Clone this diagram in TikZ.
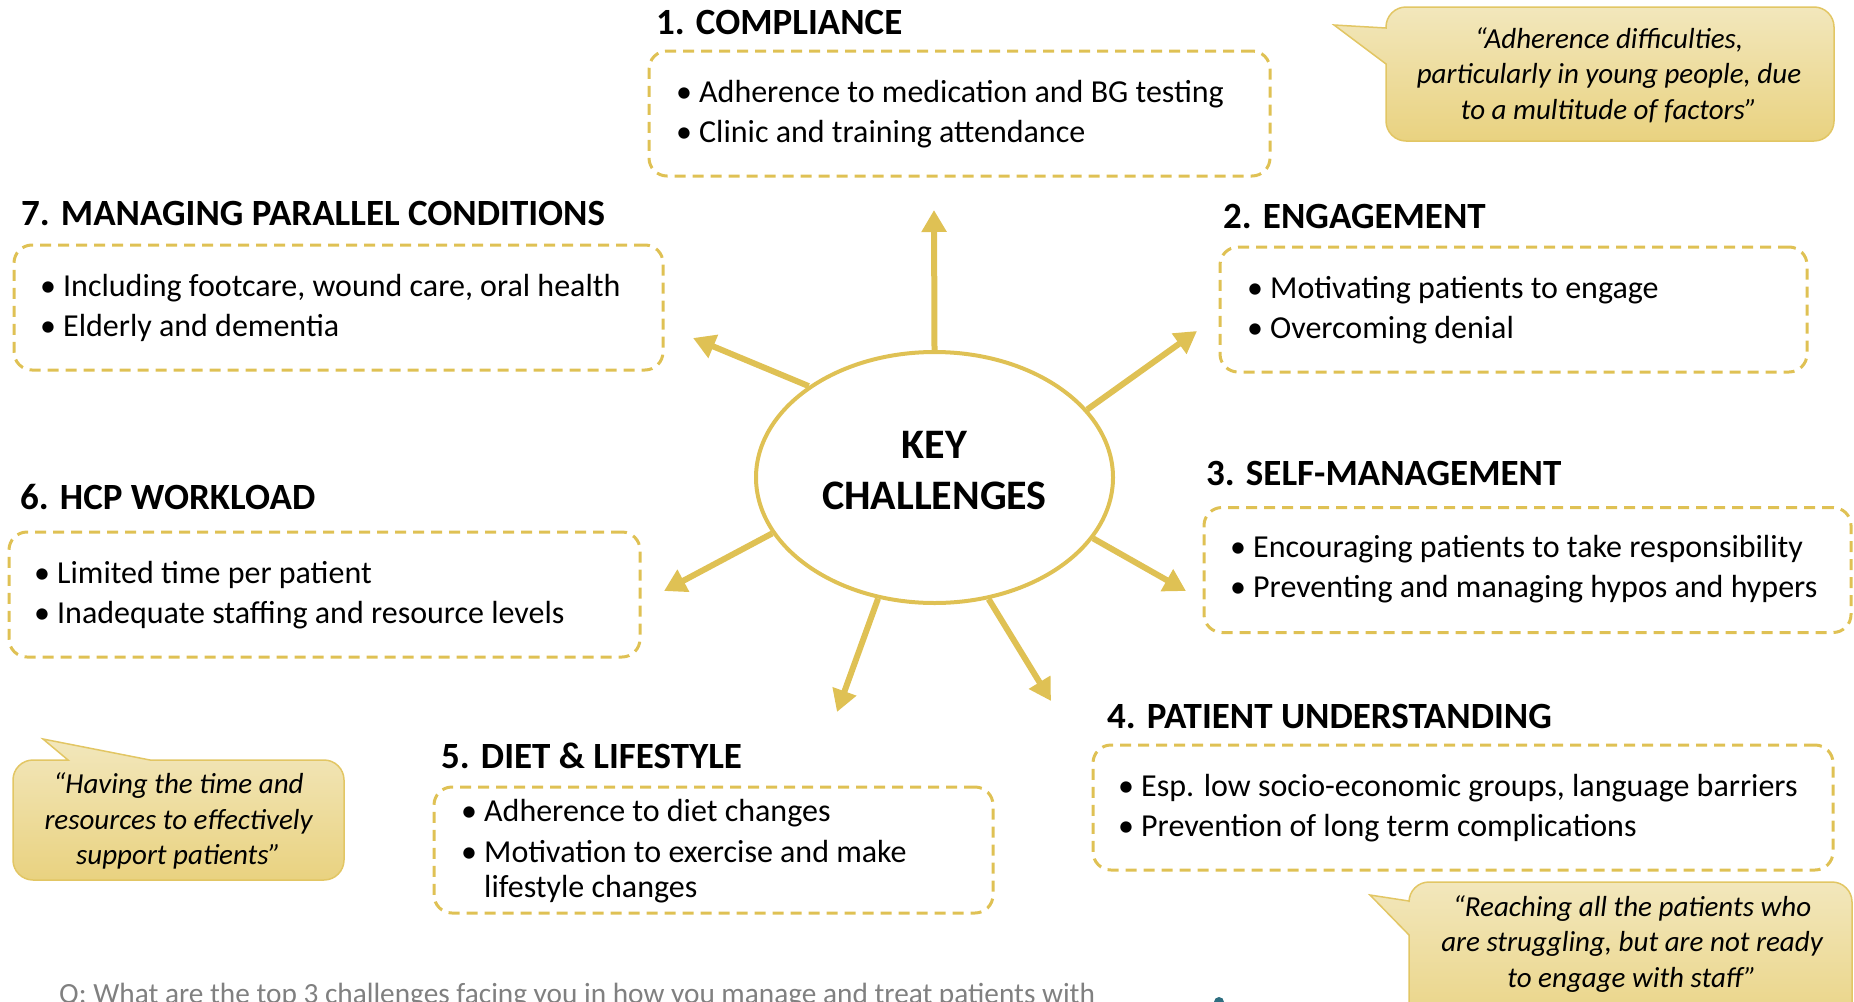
\documentclass[tikz,border=0pt]{standalone}
\usepackage{fontspec}
\setmainfont{Carlito}
\usetikzlibrary{arrows.meta,shapes.geometric}
\definecolor{gold}{RGB}{223,193,84}
\definecolor{calltop}{RGB}{242,231,188}
\definecolor{callbot}{RGB}{233,210,128}
\definecolor{callline}{RGB}{226,198,100}
\definecolor{qgray}{RGB}{128,128,128}
\definecolor{teal}{RGB}{46,110,128}
\begin{document}
\begin{tikzpicture}[x=1pt,y=-1pt,
  dbox/.style={draw=gold, line width=3pt, dash pattern=on 11pt off 7pt, rounded corners=18pt, inner sep=0pt, minimum height=125pt},
  head/.style={anchor=base west, inner sep=0pt, font=\fontsize{37}{40}\selectfont\bfseries},
  item/.style={anchor=base west, inner sep=0pt, font=\fontsize{32}{40}\selectfont},
  arr/.style={draw=gold, line width=6pt, -{Triangle[length=22pt,width=24pt]}},
  callout/.style={top color=calltop, bottom color=callbot, draw=callline, line width=1.5pt},
  quote/.style={align=center, inner sep=0pt, font=\fontsize{29}{35.5}\selectfont\itshape}]
\newcommand{\bul}{\makebox[23pt][l]{\textbullet}}
\useasboundingbox (0,0) rectangle (1854,1001);
\clip (0,0) rectangle (1854,1001);

% central ellipse
\node[ellipse, draw=gold, line width=4pt, minimum width=357pt, minimum height=251pt, inner sep=0pt] (kc) at (934.5,477.5) {};
\node[align=center, inner sep=0pt, font=\fontsize{42}{51}\selectfont\bfseries] (kct) at (934.5,471) {KEY\\CHALLENGES};

% arrow tips
\coordinate (t1) at (934,210);
\coordinate (t2) at (1197,331);
\coordinate (t3) at (1186,591);
\coordinate (t4) at (1051,701);
\coordinate (t5) at (837,712);
\coordinate (t6) at (664,591);
\coordinate (t7) at (693,338);
\draw[arr] (kc.90) -- (t1);
\draw[arr] (kc.24.8) -- (t2);
\draw[arr] (kc.-21.6) -- (t3);
\draw[arr] (kc.-66.5) -- (t4);
\draw[arr] (kc.-115.3) -- (t5);
\draw[arr] (kc.199.1) -- (t6);
\draw[arr] (kc.144.3) -- (t7);

% 1. Compliance
\node[head] (h1) at (656,34) {1. COMPLIANCE};
\node[dbox, minimum width=621pt] (b1) at (959.5,113.5) {};
\node[item] (i11) at (676,102.5) {\bul Adherence to medication and BG testing};
\node[item] (i12) at (676,142.5) {\bul Clinic and training attendance};

% 7. Managing parallel conditions
\node[head] (h7) at (21,225.5) {7. MANAGING PARALLEL CONDITIONS};
\node[dbox, minimum width=649pt] (b7) at (338.5,307.5) {};
\node[item] (i71) at (40,296.5) {\bul Including footcare, wound care, oral health};
\node[item] (i72) at (40,336.5) {\bul Elderly and dementia};

% 2. Engagement
\node[head] (h2) at (1223,228) {2. ENGAGEMENT};
\node[dbox, minimum width=587pt] (b2) at (1513.5,309.5) {};
\node[item] (i21) at (1247,298.5) {\bul Motivating patients to engage};
\node[item] (i22) at (1247,338.5) {\bul Overcoming denial};

% 3. Self-management
\node[head] (h3) at (1206,485.5) {3. SELF-MANAGEMENT};
\node[dbox, minimum width=647pt] (b3) at (1527.5,570) {};
\node[item] (i31) at (1230,557.5) {\bul Encouraging patients to take responsibility};
\node[item] (i32) at (1230,597.5) {\bul Preventing and managing hypos and hypers};

% 4. Patient understanding
\node[head] (h4) at (1107,728) {4. PATIENT UNDERSTANDING};
\node[dbox, minimum width=740pt] (b4) at (1463,807.5) {};
\node[item] (i41) at (1118,796.5) {\bul Esp. low socio-economic groups, language barriers};
\node[item] (i42) at (1118,836.5) {\bul Prevention of long term complications};

% 5. Diet & lifestyle
\node[head] (h5) at (441,768.5) {5. DIET \& LIFESTYLE};
\node[dbox, minimum width=559pt, minimum height=126pt] (b5) at (713.5,850) {};
\node[item] (i51) at (461,821.5) {\bul Adherence to diet changes};
\node[item] (i52) at (461,862.5) {\bul Motivation to exercise and make};
\node[item] (i53) at (484,897.5) {lifestyle changes};

% 6. HCP workload
\node[head] (h6) at (20,509.5) {6. HCP WORKLOAD};
\node[dbox, minimum width=631pt] (b6) at (324.5,594.5) {};
\node[item] (i61) at (34,583.5) {\bul Limited time per patient};
\node[item] (i62) at (34,623.5) {\bul Inadequate staffing and resource levels};

% callouts
\path[callout] (1386,64) -- (1334,25) -- (1386,28) [rounded corners=20pt] -- (1386,7) -- (1834,7) -- (1834,141) -- (1386,141) [sharp corners] -- cycle;
\node[quote] (q1) at (1609,75) {“Adherence difficulties,\\particularly in young people, due\\to a multitude of factors”};

\path[callout] (150,760) -- (43,739) -- (68,760) [rounded corners=20pt] -- (13,760) -- (13,880) -- (344,880) -- (344,760) [sharp corners] -- cycle;
\node[quote] (q2) at (178.5,821) {“Having the time and\\resources to effectively\\support patients”};

\path[callout] (1409,935) -- (1370,895) -- (1409,901) [rounded corners=20pt] -- (1409,882) -- (1852,882) -- (1852,1040) -- (1409,1040) [sharp corners] -- cycle;
\node[quote] (q3) at (1632,944) {“Reaching all the patients who\\are struggling, but are not ready\\to engage with staff”};

% bottom question (cut off by the page edge)
\node[anchor=base west, inner sep=0pt, text=qgray, font=\fontsize{29.3}{32}\selectfont] (q) at (59,1003) {Q: What are the top 3 challenges facing you in how you manage and treat patients with};
\fill[teal] (1219,1002) circle (5pt);
\end{tikzpicture}
\end{document}
